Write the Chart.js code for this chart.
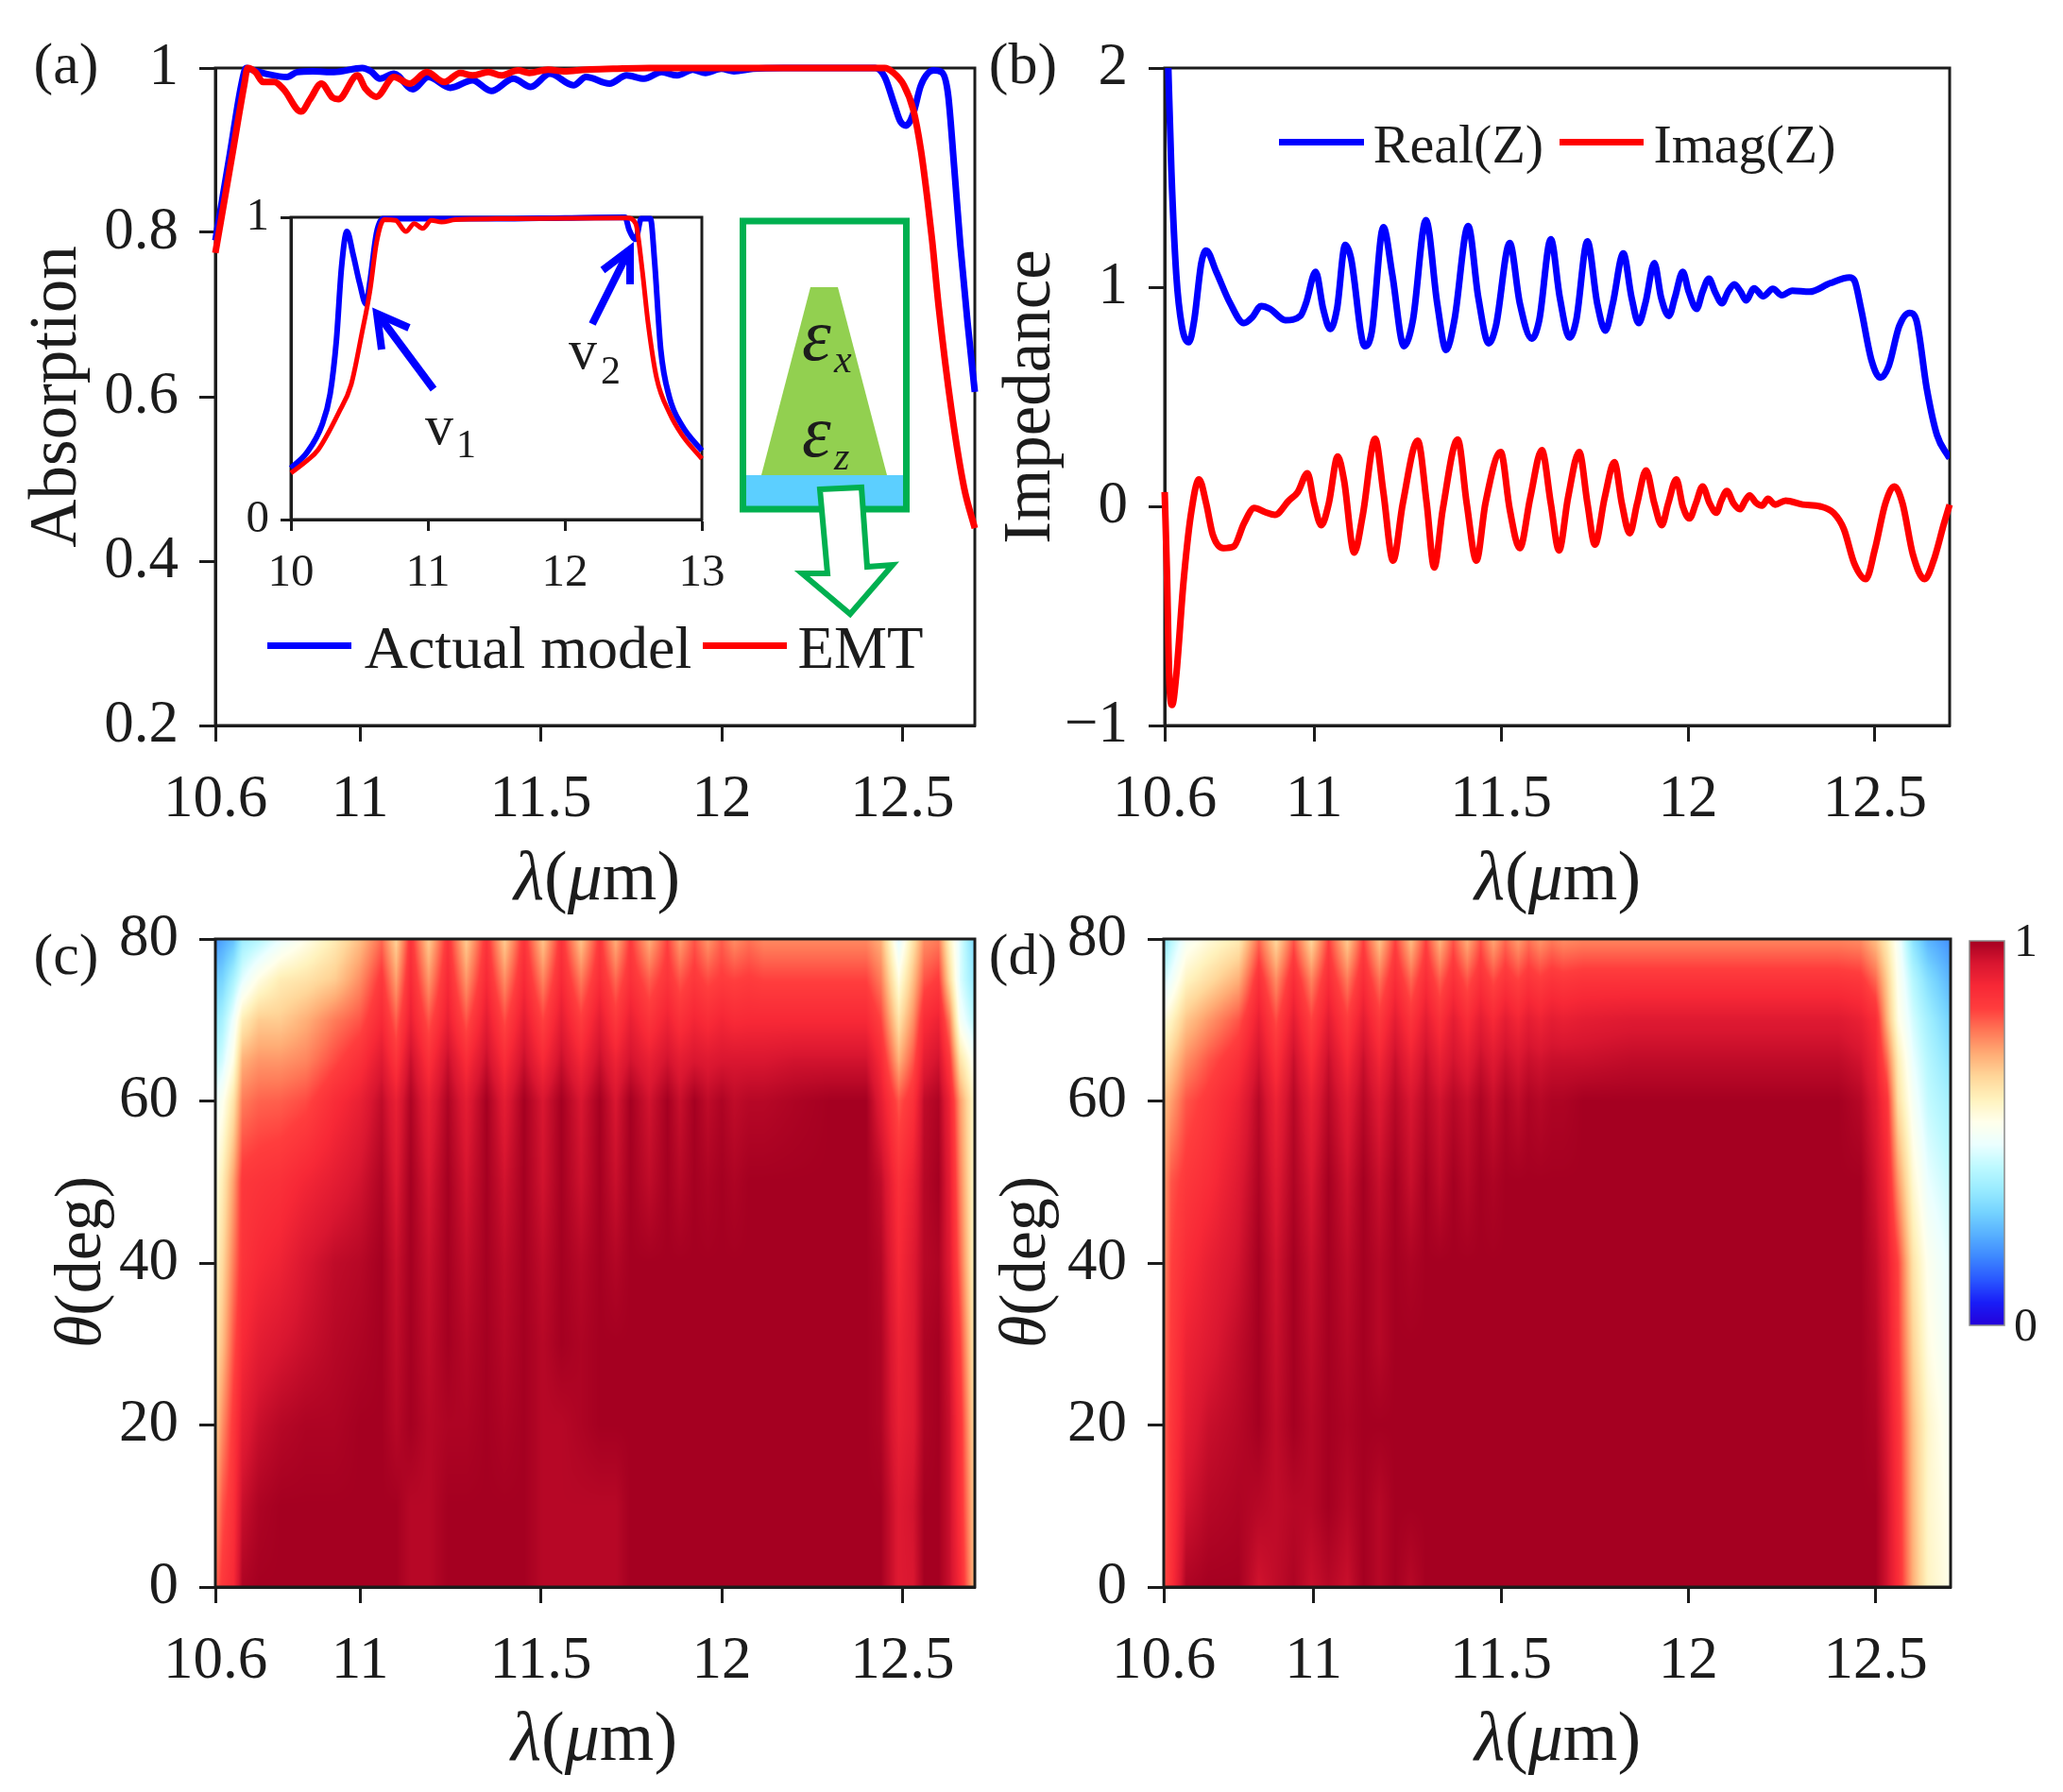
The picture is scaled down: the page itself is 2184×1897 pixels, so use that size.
<!DOCTYPE html>
<html>
<head>
<meta charset="utf-8">
<title>Absorption and impedance</title>
<script src="https://cdn.jsdelivr.net/npm/chart.js@4/dist/chart.umd.js"></script>
<style>
html, body { margin: 0; background: #fff; }
#stage { position: relative; width: 2184px; height: 1897px; overflow: hidden; filter: blur(0.6px); }
canvas { position: absolute; left: 0; top: 0; }
svg { position: absolute; left: 0; top: 0; }
.t { position: absolute; font-family: 'Liberation Serif', serif; color: #1c1c1c; white-space: nowrap; transform: translate(-50%, -50%); }
.sw { position: absolute; height: 7px; }
</style>
</head>
<body>
<div id="stage"></div>
<script>
// (a) absorption
const aBlueLambda = [10.6,10.64,10.672,10.685,10.70,10.74,10.798,10.826,10.87,10.928,11.006,11.03,11.055,11.094,11.146,11.189,11.25,11.311,11.363,11.424,11.472,11.525,11.59,11.625,11.69,11.737,11.786,11.834,11.877,11.92,11.955,11.999,12.034,12.086,12.17,12.3,12.425,12.451,12.477,12.494,12.51,12.53,12.551,12.586,12.608,12.626,12.643,12.66,12.68,12.7];
const aBlue = [.79,.895,.98,1,.998,.993,.989,.995,.996,.995,1,.996,.987,.993,.974,.989,.976,.985,.972,.987,.977,.993,.979,.989,.981,.991,.987,.995,.991,.998,.994,.999,.996,.999,1,1,1,.989,.956,.935,.93,.945,.979,.997,.995,.968,.879,.784,.69,.606];
const aRedLambda = [10.6,10.645,10.68,10.689,10.711,10.732,10.763,10.789,10.837,10.862,10.893,10.924,10.94,10.993,11.015,11.045,11.094,11.137,11.185,11.233,11.277,11.311,11.355,11.39,11.437,11.468,11.52,11.564,11.625,11.7,11.8,12.0,12.3,12.451,12.473,12.504,12.53,12.551,12.569,12.582,12.60,12.635,12.67,12.7];
const aRed = [.775,.89,.98,1,.995,.983,.983,.974,.947,.962,.981,.964,.962,.991,.975,.965,.989,.981,.995,.983,.994,.991,.995,.991,.997,.994,.998,.996,.998,.999,1,1,1,1,.995,.979,.949,.90,.84,.79,.71,.585,.49,.44];

// inset of (a)
const insetBlueLambda = [10,10.117,10.225,10.286,10.332,10.369,10.409,10.455,10.502,10.548,10.578,10.625,10.671,11,11.5,12,12.44,12.47,12.517,12.557,12.625,12.655,12.70,12.763,12.855,13];
const insetBlue = [.17,.222,.311,.415,.593,.833,.953,.875,.781,.713,.791,.948,.995,.995,.995,.998,1,.958,.927,.995,.995,.854,.562,.405,.311,.228];
const insetRedLambda = [10,10.117,10.194,10.348,10.44,10.517,10.578,10.625,10.68,10.763,10.84,10.90,10.963,11.025,11.1,11.2,11.5,12.455,12.517,12.563,12.609,12.67,12.763,12.855,13];
const insetRed = [.154,.195,.228,.353,.447,.614,.76,.916,.992,.99,.953,.979,.963,.99,.984,.992,.995,.998,.979,.833,.645,.468,.353,.28,.201];

// (b) impedance
const bRealLambda = [10.608,10.618,10.631,10.646,10.665,10.679,10.698,10.711,10.738,10.775,10.812,10.834,10.858,10.882,10.923,10.963,10.978,11.004,11.024,11.043,11.061,11.083,11.098,11.135,11.154,11.185,11.209,11.240,11.264,11.299,11.329,11.353,11.375,11.412,11.439,11.467,11.486,11.523,11.550,11.582,11.602,11.633,11.657,11.683,11.701,11.731,11.757,11.779,11.799,11.827,11.849,11.868,11.886,11.910,11.928,11.949,11.965,11.986,12.002,12.023,12.039,12.056,12.072,12.091,12.107,12.124,12.141,12.155,12.177,12.201,12.227,12.251,12.279,12.325,12.380,12.432,12.445,12.463,12.491,12.515,12.537,12.565,12.593,12.611,12.639,12.666,12.694,12.70];
const bReal = [2.1,1.527,1.057,.822,.749,.849,1.11,1.167,1.07,.927,.836,.862,.914,.901,.849,.869,.927,1.07,.901,.809,.901,1.193,1.136,.731,.796,1.274,1.057,.731,.849,1.306,.927,.713,.849,1.279,.953,.744,.822,1.201,.927,.765,.849,1.219,.953,.77,.849,1.209,.927,.802,.927,1.154,.953,.836,.927,1.11,.953,.869,.953,1.07,.979,.901,.979,1.039,.979,.927,.979,1.013,.979,.94,.995,.958,.992,.963,.984,.979,1.018,1.044,1.031,.901,.666,.587,.64,.822,.883,.849,.535,.326,.235,.22];
const bImagLambda = [10.6,10.606,10.613,10.62,10.631,10.65,10.67,10.692,10.711,10.729,10.757,10.785,10.812,10.84,10.868,10.895,10.932,10.956,10.982,11.0,11.019,11.039,11.063,11.08,11.107,11.13,11.163,11.185,11.211,11.237,11.277,11.301,11.321,11.344,11.384,11.408,11.434,11.458,11.499,11.523,11.55,11.578,11.609,11.633,11.655,11.679,11.709,11.731,11.751,11.777,11.803,11.823,11.844,11.864,11.888,11.91,11.93,11.947,11.969,11.986,12.004,12.021,12.039,12.058,12.076,12.089,12.104,12.122,12.139,12.153,12.165,12.181,12.198,12.214,12.233,12.261,12.307,12.353,12.39,12.417,12.445,12.476,12.5,12.528,12.552,12.574,12.602,12.633,12.657,12.685,12.7];
const bImag = [.065,-.3,-.822,-.906,-.77,-.352,-.039,.123,.013,-.131,-.191,-.183,-.078,-.008,-.026,-.039,.026,.065,.151,.013,-.086,.013,.227,.117,-.211,-.039,.308,.065,-.248,.013,.3,.013,-.279,-.013,.305,.013,-.248,.013,.248,-.013,-.191,.039,.256,.013,-.201,.039,.248,.013,-.175,.039,.201,.013,-.123,.013,.164,.013,-.086,.013,.123,0,-.055,.013,.091,.013,-.029,.026,.07,.013,-.013,.026,.05,.018,.003,.034,.008,.026,.008,0,-.031,-.104,-.261,-.332,-.196,.013,.091,.013,-.222,-.332,-.248,-.078,.008];

// (c) absorption map, one list per angle
const cLambda = [10.60,10.62,10.65,10.675,10.72,10.78,10.85,10.93,11.00,11.06,11.10,11.14,11.19,11.243,11.294,11.35,11.40,11.454,11.506,11.557,11.611,11.663,11.707,11.748,11.80,11.85,11.885,11.925,11.962,12.0,12.035,12.076,12.117,12.20,12.30,12.40,12.44,12.49,12.53,12.56,12.60,12.63,12.66,12.70];
const cTheta = [0,10,20,30,40,50,60,65,70,75,80];
const cRows = [
  [.78,.84,.88,.99,1,1,1,1,1,1,1,.98,.98,1,1,1,1,1,.98,.98,.98,.98,.98,1,1,1,1,1,1,1,1,1,1,1,1,1,1,.93,.94,1,1,.96,.88,.68],
  [.72,.80,.86,.96,.99,1,1,1,1,1,1,.98,.98,1,1,1,1,1,.98,.98,.98,.98,.98,1,1,1,1,1,1,1,1,1,1,1,1,1,1,.93,.95,1,1,.96,.86,.66],
  [.66,.74,.84,.92,.96,.98,.99,.99,1,1,.98,1,.98,.99,.99,1,.99,1,.98,.98,.99,1,1,1,1,1,1,1,1,1,1,1,1,1,1,1,.99,.91,.93,.99,1,.96,.85,.63],
  [.62,.68,.80,.88,.92,.94,.96,.98,.99,1,.97,1,.97,1,.98,1,.98,1,.98,1,.99,1,1,1,1,1,1,1,1,1,1,1,1,1,1,1,.99,.90,.93,.99,1,.95,.82,.60],
  [.58,.64,.76,.85,.88,.90,.94,.97,.98,1,.96,1,.96,1,.965,1,.97,1,.97,1,.98,1,.985,1,1,1,1,1,1,1,1,1,1,1,1,1,.985,.88,.93,.98,.99,.93,.78,.57],
  [.54,.60,.72,.84,.85,.86,.89,.92,.95,.99,.935,1,.94,1,.945,1,.95,1,.95,1,.955,1,.96,1,.97,1,.98,1,.99,1,.99,1,1,1,1,1,.97,.86,.91,.98,1,.92,.75,.56],
  [.48,.52,.62,.76,.785,.79,.81,.87,.91,.97,.91,.99,.91,.99,.92,1,.92,1,.94,1,.94,1,.94,1,.95,1,.96,1,.97,.99,.97,.98,.98,.99,1,1,.92,.80,.86,.97,.99,.90,.72,.56],
  [.40,.44,.54,.70,.73,.73,.75,.81,.86,.93,.85,.96,.86,.96,.87,.96,.87,.96,.88,.96,.89,.96,.90,.95,.91,.95,.92,.94,.93,.94,.94,.94,.94,.95,.95,.95,.88,.70,.80,.92,.95,.84,.62,.50],
  [.34,.38,.48,.60,.66,.66,.70,.76,.80,.88,.79,.91,.80,.91,.80,.92,.81,.92,.82,.92,.83,.92,.84,.91,.85,.90,.86,.89,.87,.89,.875,.88,.88,.88,.88,.88,.82,.62,.74,.87,.90,.76,.50,.40],
  [.28,.30,.38,.46,.54,.60,.62,.66,.74,.84,.72,.88,.73,.88,.73,.88,.74,.88,.75,.88,.76,.87,.78,.86,.79,.85,.80,.84,.81,.83,.82,.83,.82,.82,.82,.82,.76,.54,.68,.80,.83,.64,.45,.34],
  [.19,.22,.26,.36,.40,.47,.53,.60,.68,.78,.65,.85,.66,.85,.66,.85,.66,.85,.67,.85,.67,.84,.70,.83,.70,.82,.72,.80,.73,.79,.74,.77,.745,.745,.745,.745,.70,.46,.62,.74,.76,.58,.45,.30]
];

// (d) absorption map, one list per angle
const dLambda = [10.60,10.62,10.66,10.72,10.80,10.854,10.90,10.947,10.994,11.04,11.09,11.133,11.176,11.218,11.26,11.30,11.337,11.373,11.41,11.446,11.48,11.512,11.546,11.574,11.605,11.636,11.667,11.72,11.85,12.00,12.20,12.40,12.46,12.50,12.53,12.56,12.60,12.64,12.70];
const dTheta = [0,10,20,30,40,50,60,65,70,75,80];
const dRows = [
  [.80,.86,.99,1,1,.95,.97,.99,.96,.98,.96,1,.98,1,.98,1,1,1,1,1,1,1,1,1,1,1,1,1,1,1,1,1,1,1,.95,.87,.70,.58,.53],
  [.78,.85,.95,.98,.99,.98,.97,.98,.98,1,.98,1,.98,1,1,1,1,1,1,1,1,1,1,1,1,1,1,1,1,1,1,1,1,1,.95,.86,.69,.57,.52],
  [.78,.84,.92,.96,.98,1,.97,1,.98,1,.99,1,1,1,1,1,1,1,1,1,1,1,1,1,1,1,1,1,1,1,1,1,1,.99,.94,.85,.68,.57,.50],
  [.76,.83,.90,.93,.97,1,.96,1,.97,1,.98,1,.98,1,1,1,1,1,1,1,1,1,1,1,1,1,1,1,1,1,1,1,1,.98,.93,.83,.65,.54,.48],
  [.74,.82,.87,.91,.95,1,.95,1,.96,1,.97,1,.98,1,.99,1,1,1,1,1,1,1,1,1,1,1,1,1,1,1,1,1,1,.97,.92,.82,.62,.52,.46],
  [.72,.80,.84,.87,.93,.99,.93,.99,.94,1,.95,1,.96,1,.96,1,.97,1,.98,1,.99,1,1,1,1,1,1,1,1,1,1,1,1,.95,.89,.73,.56,.47,.42],
  [.68,.72,.80,.84,.90,.98,.90,.98,.91,.98,.92,.98,.93,.98,.94,.98,.95,.98,.96,.99,.96,.99,.97,.99,.98,.99,.99,1,1,1,1,1,.98,.93,.85,.63,.50,.42,.37],
  [.62,.66,.74,.80,.86,.95,.86,.96,.87,.96,.88,.96,.89,.96,.90,.96,.91,.95,.92,.96,.93,.96,.94,.96,.95,.96,.96,.96,.97,.97,.97,.97,.95,.90,.78,.60,.47,.40,.33],
  [.55,.58,.67,.73,.80,.91,.81,.92,.82,.92,.83,.92,.84,.92,.85,.92,.86,.92,.87,.92,.88,.92,.89,.92,.90,.92,.91,.92,.93,.93,.93,.93,.91,.87,.70,.54,.44,.37,.29],
  [.44,.48,.58,.63,.70,.86,.74,.87,.75,.87,.76,.87,.77,.87,.78,.87,.79,.86,.80,.86,.81,.85,.82,.85,.83,.85,.84,.85,.85,.85,.85,.85,.84,.78,.66,.52,.40,.32,.24],
  [.33,.40,.50,.55,.60,.78,.64,.80,.64,.82,.66,.82,.67,.82,.68,.82,.69,.80,.70,.80,.71,.78,.72,.77,.73,.76,.74,.75,.75,.75,.75,.75,.74,.68,.60,.50,.33,.24,.19]
];

// colour bar
const barEnds = [0, 1];
const barRows = [[0, 0], [1, 1]];
const barTicks = [0, 1];
const barTickLabels = ['0', '1'];

// blue - white - red colour map of the figure
const mapColours = [[36,0,217],[25,29,247],[41,87,255],[61,135,255],[87,176,255],[117,211,255],[153,235,255],[189,249,255],[235,255,255],[255,255,235],[255,242,189],[255,214,153],[255,172,117],[255,120,87],[255,61,61],[247,40,54],[217,22,48],[165,0,33]];

// ticks
const lambdaTicks = [10.6, 11, 11.5, 12, 12.5];
const lambdaTickLabels = ['10.6', '11', '11.5', '12', '12.5'];
const absorptionTicks = [.2, .4, .6, .8, 1];
const absorptionTickLabels = ['0.2', '0.4', '0.6', '0.8', '1'];
const impedanceTicks = [-1, 0, 1, 2];
const impedanceTickLabels = ['\u22121', '0', '1', '2'];
const thetaTicks = [0, 20, 40, 60, 80];
const thetaTickLabels = ['0', '20', '40', '60', '80'];
const insetXTicks = [10, 11, 12, 13];
const insetXTickLabels = ['10', '11', '12', '13'];
const insetYTicks = [0, 1];
const insetYTickLabels = ['0', '1'];

const W = 2184, H = 1897;
const FONT = "'Liberation Serif', serif";
const INK = '#1c1c1c';
const BLUE = '#0000ff', RED = '#ff0000', GREEN = '#00b050';
const stage = document.getElementById('stage');

function xy(xs, ys) { return xs.map((x, i) => ({ x: x, y: ys[i] })); }

function bracket(list, v) {
  let i = 0;
  while (i < list.length - 2 && v > list[i + 1]) i++;
  const t = (v - list[i]) / (list[i + 1] - list[i]);
  return [i, Math.max(0, Math.min(1, t))];
}

function colourOf(v) {
  const p = Math.max(0, Math.min(1, v)) * (mapColours.length - 1);
  const i = Math.min(Math.floor(p), mapColours.length - 2), t = p - i;
  const a = mapColours[i], b = mapColours[i + 1];
  return [a[0] + (b[0] - a[0]) * t, a[1] + (b[1] - a[1]) * t, a[2] + (b[2] - a[2]) * t];
}

// paints the map like shading interp, going through the chart's own scales
function shaded(xs, ys, rows) {
  return {
    id: 'shaded',
    beforeDatasetsDraw(chart) {
      const area = chart.chartArea, sx = chart.scales.x, sy = chart.scales.y;
      const L = Math.round(area.left), T = Math.round(area.top);
      const w = Math.round(area.right) - L, h = Math.round(area.bottom) - T;
      const img = chart.ctx.createImageData(w, h);
      for (let j = 0; j < h; j++) {
        const [r, tr] = bracket(ys, sy.getValueForPixel(T + j + .5));
        for (let i = 0; i < w; i++) {
          const [c, tc] = bracket(xs, sx.getValueForPixel(L + i + .5));
          const low = rows[r][c] + (rows[r][c + 1] - rows[r][c]) * tc;
          const top = rows[r + 1][c] + (rows[r + 1][c + 1] - rows[r + 1][c]) * tc;
          const rgb = colourOf(low + (top - low) * tr);
          const k = (j * w + i) * 4;
          img.data[k] = rgb[0]; img.data[k + 1] = rgb[1]; img.data[k + 2] = rgb[2]; img.data[k + 3] = 255;
        }
      }
      chart.ctx.putImageData(img, L, T);
    }
  };
}

// closed box round the plot
function frame(width, colour) {
  return {
    id: 'frame',
    beforeDatasetsDraw(chart) {
      const a = chart.chartArea, ctx = chart.ctx;
      ctx.save();
      ctx.lineWidth = width;
      ctx.strokeStyle = colour;
      ctx.strokeRect(a.left, a.top, a.right - a.left, a.bottom - a.top);
      ctx.restore();
    }
  };
}

function axis(min, max, ticks, labels, o) {
  const cfg = {
    type: 'linear', min: min, max: max, position: o.position,
    afterBuildTicks(s) { s.ticks = ticks.map(v => ({ value: v })); },
    afterFit(s) { if (o.width !== undefined) s.width = o.width; if (o.height !== undefined) s.height = o.height; },
    grid: { display: true, drawOnChartArea: false, drawTicks: true, tickLength: o.tickLength, tickWidth: o.line, tickColor: INK },
    border: { display: true, width: o.line, color: INK },
    ticks: {
      autoSkip: false, maxRotation: 0, minRotation: 0, padding: o.padding, color: INK,
      font: { family: FONT, size: o.size },
      callback: v => labels[ticks.findIndex(t => Math.abs(t - v) < 1e-6)]
    }
  };
  if (o.title) cfg.title = { display: true, text: o.title, color: INK, padding: 0, font: { family: FONT, size: o.titleSize } };
  return cfg;
}

function plot(rect, yWidth, xHeight, datasets, scales, plugins, rightWidth) {
  const c = document.createElement('canvas');
  c.width = W; c.height = H;
  stage.appendChild(c);
  return new Chart(c.getContext('2d'), {
    type: 'line',
    data: { datasets: datasets },
    plugins: plugins,
    options: {
      responsive: false, animation: false, devicePixelRatio: 1, events: [], parsing: false,
      layout: { padding: { left: rect.left - yWidth, right: W - rect.right - (rightWidth || 0), top: rect.top, bottom: H - rect.bottom - xHeight } },
      plugins: { legend: { display: false }, tooltip: { enabled: false }, title: { display: false } },
      scales: scales
    }
  });
}

function curve(label, xs, ys, colour, width, order, clip) {
  return {
    label: label, data: xy(xs, ys), borderColor: colour, backgroundColor: colour, borderWidth: width,
    pointRadius: 0, fill: false, cubicInterpolationMode: 'monotone', order: order, clip: clip,
    borderJoinStyle: 'round', borderCapStyle: 'butt'
  };
}

function cells(xs, ys, rows) {
  const data = [];
  ys.forEach((y, r) => xs.forEach((x, c) => data.push({ x: x, y: y, v: rows[r][c] })));
  return [{ label: 'Absorption', data: data, pointRadius: 0, showLine: false }];
}

function text(html, x, y, size, rot) {
  const d = document.createElement('div');
  d.className = 't';
  d.innerHTML = html;
  d.style.left = x + 'px';
  d.style.top = y + 'px';
  d.style.fontSize = size + 'px';
  if (rot) d.style.transform = 'translate(-50%,-50%) rotate(' + rot + 'deg)';
  stage.appendChild(d);
}

function swatch(x0, x1, y, colour) {
  const d = document.createElement('div');
  d.className = 'sw';
  d.style.left = x0 + 'px';
  d.style.width = (x1 - x0) + 'px';
  d.style.top = (y - 3.5) + 'px';
  d.style.background = colour;
  stage.appendChild(d);
}

const mainX = { position: 'bottom', height: 110, tickLength: 17, line: 3, padding: 25, size: 63 };
const mainY = { position: 'left', tickLength: 17, line: 3, padding: 22, size: 63 };

// (a)
plot({ left: 228, right: 1032, top: 72, bottom: 768 }, 209, 110,
  [curve('Actual model', aBlueLambda, aBlue, BLUE, 7, 2, false), curve('EMT', aRedLambda, aRed, RED, 7, 1, false)],
  {
    x: axis(10.6, 12.7, lambdaTicks, lambdaTickLabels, mainX),
    y: axis(.2, 1, absorptionTicks, absorptionTickLabels, Object.assign({}, mainY, { width: 209, title: 'Absorption', titleSize: 71 }))
  }, [frame(3, INK)]);

// (b)
plot({ left: 1233, right: 2064, top: 72, bottom: 768 }, 183, 110,
  [curve('Real(Z)', bRealLambda, bReal, BLUE, 7, 2, true), curve('Imag(Z)', bImagLambda, bImag, RED, 7, 1, false)],
  {
    x: axis(10.6, 12.7, lambdaTicks, lambdaTickLabels, mainX),
    y: axis(-1, 2, impedanceTicks, impedanceTickLabels, Object.assign({}, mainY, { width: 183, title: 'Impedance', titleSize: 71 }))
  }, [frame(3, INK)]);

// (c)
plot({ left: 228, right: 1032, top: 994, bottom: 1680 }, 160, 110, cells(cLambda, cTheta, cRows),
  {
    x: axis(10.6, 12.7, lambdaTicks, lambdaTickLabels, mainX),
    y: axis(0, 80, thetaTicks, thetaTickLabels, Object.assign({}, mainY, { width: 160 }))
  }, [shaded(cLambda, cTheta, cRows), frame(3, INK)]);

// (d)
plot({ left: 1232, right: 2065, top: 994, bottom: 1680 }, 160, 110, cells(dLambda, dTheta, dRows),
  {
    x: axis(10.6, 12.7, lambdaTicks, lambdaTickLabels, mainX),
    y: axis(0, 80, thetaTicks, thetaTickLabels, Object.assign({}, mainY, { width: 160 }))
  }, [shaded(dLambda, dTheta, dRows), frame(3, INK)]);

// colour bar, same painter
const barX = axis(0, 1, [], [], { position: 'bottom', height: 0, tickLength: 0, line: 0, padding: 0, size: 10 });
barX.display = false;
const barY = axis(0, 1, barTicks, barTickLabels, { position: 'right', width: 50, tickLength: 0, line: 0, padding: 10, size: 50 });
barY.grid.display = false;
barY.border.display = false;
barY.ticks.labelOffset = 3;
plot({ left: 2085, right: 2122, top: 996, bottom: 1403 }, 0, 0, cells(barEnds, barEnds, barRows),
  { x: barX, y: barY }, [shaded(barEnds, barEnds, barRows), frame(1.5, '#8a8a8a')], 50);

// inset of (a)
const insetXOpt = { position: 'bottom', height: 80, tickLength: 12, line: 3, padding: 16, size: 49 };
const insetYOpt = { position: 'left', width: 60, tickLength: 11, line: 3, padding: 12, size: 49 };
plot({ left: 308, right: 743, top: 230, bottom: 550 }, 60, 80,
  [curve('Actual model', insetBlueLambda, insetBlue, BLUE, 6, 2, false), curve('EMT', insetRedLambda, insetRed, RED, 5, 1, false)],
  {
    x: axis(10, 13, insetXTicks, insetXTickLabels, insetXOpt),
    y: axis(0, 1, insetYTicks, insetYTickLabels, insetYOpt)
  }, [frame(3, INK)]);

// schematic and arrows of (a)
const svgNS = 'http://www.w3.org/2000/svg';
const svg = document.createElementNS(svgNS, 'svg');
svg.setAttribute('width', W);
svg.setAttribute('height', H);
svg.innerHTML = `
  <polygon points="858,304 887,304 939,503 806,503" fill="#92d050"/>
  <rect x="787" y="503" width="172" height="34" fill="#5ccfff"/>
  <rect x="786.5" y="234" width="173" height="305" fill="none" stroke="${GREEN}" stroke-width="7"/>
  <polygon points="868,518 912,516 918,600 945,598 900,650 849,607 876,607" fill="#fff" stroke="${GREEN}" stroke-width="6"/>
  <g fill="none" stroke="${BLUE}" stroke-width="8">
    <path d="M459,412 L401,334"/><path d="M404,370 L399,332 L433,347"/>
    <path d="M627,343 L665,267"/><path d="M638,286 L667,264 L667,301"/>
  </g>
  <g font-family="'Liberation Serif', serif" fill="#1c1c1c">
    <text x="450" y="470" font-size="60">v</text><text x="483" y="484" font-size="42">1</text>
    <text x="602" y="390" font-size="60">v</text><text x="636" y="406" font-size="42">2</text>
    <text x="849" y="381" font-size="78" font-style="italic">\u03b5</text><text x="883" y="394" font-size="42" font-style="italic">x</text>
    <text x="849" y="483" font-size="78" font-style="italic">\u03b5</text><text x="883" y="497" font-size="42" font-style="italic">z</text>
  </g>`;
stage.appendChild(svg);

// legends
swatch(283, 372, 683, BLUE);
text('Actual model', 559, 686, 64);
swatch(744, 833, 683, RED);
text('EMT', 911, 686, 63);
swatch(1354, 1444, 150, BLUE);
text('Real(Z)', 1544, 152, 58);
swatch(1651, 1740, 150, RED);
text('Imag(Z)', 1847, 152, 58);

// panel letters
text('(a)', 70, 67, 62);
text('(b)', 1083, 67, 62);
text('(c)', 70, 1010, 62);
text('(d)', 1083, 1010, 62);

// axis titles with mixed slant
const lambdaTitle = '<i>\u03bb</i>(<i>\u03bc</i>m)';
const thetaTitle = '<i>\u03b8</i>(deg)';
text(lambdaTitle, 632, 927, 74);
text(lambdaTitle, 1649, 927, 74);
text(lambdaTitle, 629, 1838, 74);
text(lambdaTitle, 1649, 1838, 74);
text(thetaTitle, 83, 1336, 70, -90);
text(thetaTitle, 1083, 1336, 70, -90);
</script>
</body>
</html>
